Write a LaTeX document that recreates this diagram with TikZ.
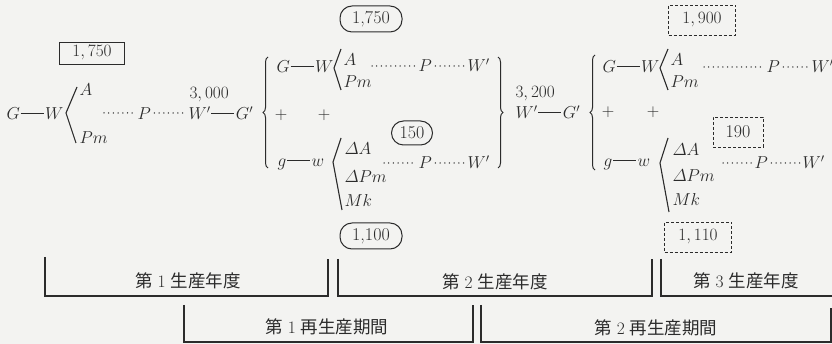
\documentclass[tikz,border=0pt]{standalone}
\usepackage{amsmath}
\usepackage{fontspec}
\newfontfamily\cjk{Noto Sans CJK JP}
\usetikzlibrary{decorations.pathreplacing}
\definecolor{ink}{HTML}{2B2B2B}
\definecolor{paper}{HTML}{F3F3F1}
\newcommand{\mydash}{\mbox{\kern0.8pt\rule[5.8pt]{23pt}{0.8pt}\kern1.5pt}}
\newcommand{\jsp}{\hspace{0.28em}}
\begin{document}
\begin{tikzpicture}[x=1pt,y=-1pt, color=ink, line width=1.1pt,
  every node/.style={inner sep=0pt, text=ink, font=\fontsize{18}{21}\selectfont},
  t/.style={anchor=base west},
  lbl/.style={font=\fontsize{17.5}{20}\selectfont},
  dotline/.style={line width=1.5pt, dash pattern=on 0pt off 4.7pt, line cap=round},
  oval/.style={draw, line width=1pt, rounded corners=12pt, minimum height=26pt},
  sq/.style={draw, line width=0.9pt, minimum height=22pt},
  dsq/.style={draw, line width=0.9pt, dash pattern=on 3pt off 2pt, minimum height=30pt},
  brc/.style={decorate, decoration={brace, amplitude=5pt}, line width=1pt},
  ang/.style={line width=1.1pt, line join=miter}
]
\fill[paper] (0,0) rectangle (832,344);
\useasboundingbox (0,0) rectangle (832,344);

% ---------- column 1 ----------
\node[t] (gw1) at (6,120) {$G\mydash W$};
\coordinate (a1t) at (77,87);
\coordinate (a1v) at (66,113);
\coordinate (a1b) at (76,143);
\draw[ang] (a1t) -- (a1v) -- (a1b);
\node[t] (A1) at (79,96) {$A$};
\node[t] (Pm1) at (79,144) {$Pm$};
\node[t] (P1) at (137,120) {$P$};
\node[t] (WG1) at (188,120) {$W'\mydash G'$};
\node[t] (n3000) at (189,99) {$3,000$};
\node[sq, minimum width=65pt] (b1750) at (92,53) {$1,750$};
\coordinate (d1s) at (104,113);
\draw[dotline] (d1s) -- ([xshift=-2pt]d1s -| P1.west);
\draw[dotline] ([xshift=3pt]P1.east |- d1s) -- ([xshift=-2pt]d1s -| WG1.west);
\coordinate (br1b) at (268,168);
\coordinate (br1t) at (268,57);
\draw[brc] (br1b) -- (br1t);

% ---------- column 2 ----------
\node[t] (gw2) at (276,73) {$G\mydash W$};
\coordinate (a2t) at (341,49);
\coordinate (a2v) at (334,68);
\coordinate (a2b) at (341,90);
\draw[ang] (a2t) -- (a2v) -- (a2b);
\node[t] (A2) at (343,66) {$A$};
\node[t] (Pm2) at (343,88) {$Pm$};
\node[t] (P2) at (418,72) {$P$};
\node[t] (W2) at (467,72) {$W'$};
\coordinate (d2s) at (372,66);
\draw[dotline] (d2s) -- ([xshift=-2pt]d2s -| P2.west);
\draw[dotline] ([xshift=3pt]P2.east |- d2s) -- ([xshift=-2pt]d2s -| W2.west);
\node[oval, minimum width=62pt] (o1750) at (371,19) {1,750};

\node (pl2a) at (281,115) {$+$};
\node (pl2b) at (324,115) {$+$};

\node[oval, minimum width=41pt, minimum height=24pt] (o150) at (412,133) {150};

\node[t] (gw2b) at (277,167) {$g\mydash w$};
\coordinate (a2bt) at (341,138);
\coordinate (a2bv) at (333,162);
\coordinate (a2bb) at (342,210);
\draw[ang] (a2bt) -- (a2bv) -- (a2bb);
\node[t] (dA2) at (344,155) {$\varDelta A$};
\node[t] (dPm2) at (344,183) {$\varDelta Pm$};
\node[t] (Mk2) at (344,207) {$Mk$};
\node[t] (P2b) at (418,169) {$P$};
\node[t] (W2b) at (467,169) {$W'$};
\coordinate (d2bs) at (384,163);
\draw[dotline] (d2bs) -- ([xshift=-2pt]d2bs -| P2b.west);
\draw[dotline] ([xshift=3pt]P2b.east |- d2bs) -- ([xshift=-2pt]d2bs -| W2b.west);
\node[oval, minimum width=62pt] (o1100) at (371,236) {1,100};

\coordinate (br2t) at (498,57);
\coordinate (br2b) at (498,168);
\draw[brc] (br2t) -- (br2b);
\node[t] (n3200) at (515,98) {$3,200$};
\node[t] (WG2) at (515,119) {$W'\mydash G'$};

% ---------- column 3 ----------
\coordinate (br3b) at (595,170);
\coordinate (br3t) at (595,55);
\draw[brc] (br3b) -- (br3t);
\node[t] (gw3) at (602,73) {$G\mydash W$};
\coordinate (a3t) at (668,49);
\coordinate (a3v) at (660,68);
\coordinate (a3b) at (668,90);
\draw[ang] (a3t) -- (a3v) -- (a3b);
\node[t] (A3) at (670,66) {$A$};
\node[t] (Pm3) at (670,88) {$Pm$};
\node[t] (P3) at (766,73) {$P$};
\node[t] (W3) at (811,73) {$W'$};
\coordinate (d3s) at (704,67);
\draw[dotline] (d3s) -- ([xshift=-2pt]d3s -| P3.west);
\draw[dotline] ([xshift=3pt]P3.east |- d3s) -- ([xshift=-2pt]d3s -| W3.west);
\node[dsq, minimum width=67pt] (d1900) at (702,20) {$1,900$};

\node (pl3a) at (608,112) {$+$};
\node (pl3b) at (653,112) {$+$};

\node[dsq, minimum width=50pt] (d190) at (738,132) {190};

\node[t] (gw3b) at (603,167) {$g\mydash w$};
\coordinate (a3bt) at (668,138);
\coordinate (a3bv) at (660,163);
\coordinate (a3bb) at (669,212);
\draw[ang] (a3bt) -- (a3bv) -- (a3bb);
\node[t] (dA3) at (672,156) {$\varDelta A$};
\node[t] (dPm3) at (672,182) {$\varDelta Pm$};
\node[t] (Mk3) at (672,206) {$Mk$};
\node[t] (P3b) at (754,169) {$P$};
\node[t] (W3b) at (802,169) {$W'$};
\coordinate (d3bs) at (723,163);
\draw[dotline] (d3bs) -- ([xshift=-2pt]d3bs -| P3b.west);
\draw[dotline] ([xshift=3pt]P3b.east |- d3bs) -- ([xshift=-2pt]d3bs -| W3b.west);
\node[dsq, minimum width=67pt] (d1110) at (698,237) {$1,110$};

% ---------- production years ----------
\coordinate (y1a) at (45,257);
\coordinate (y1b) at (45,296);
\coordinate (y1c) at (328,296);
\coordinate (y1d) at (328,259);
\draw (y1a) -- (y1b) -- (y1c) -- (y1d);
\node[lbl] (ly1) at (188,281) {{\cjk 第}\jsp1\jsp{\cjk 生産年度}};

\coordinate (y2a) at (338,259);
\coordinate (y2b) at (338,296);
\coordinate (y2c) at (652,296);
\coordinate (y2d) at (652,259);
\draw (y2a) -- (y2b) -- (y2c) -- (y2d);
\node[lbl] (ly2) at (495,282) {{\cjk 第}\jsp2\jsp{\cjk 生産年度}};

\coordinate (y3a) at (661,259);
\coordinate (y3b) at (661,296);
\coordinate (y3c) at (832,296);
\draw (y3a) -- (y3b) -- (y3c);
\node[lbl] (ly3) at (746,281) {{\cjk 第}\jsp3\jsp{\cjk 生産年度}};

% ---------- reproduction periods ----------
\coordinate (p1a) at (184,305);
\coordinate (p1b) at (184,342);
\coordinate (p1c) at (473,342);
\coordinate (p1d) at (473,305);
\draw (p1a) -- (p1b) -- (p1c) -- (p1d);
\node[lbl] (lp1) at (327,327) {{\cjk 第}\jsp1\jsp{\cjk 再生産期間}};

\coordinate (p2a) at (481,305);
\coordinate (p2b) at (481,342);
\coordinate (p2c) at (831,342);
\coordinate (p2d) at (831,308);
\draw (p2a) -- (p2b) -- (p2c) -- (p2d);
\node[lbl] (lp2) at (656,328) {{\cjk 第}\jsp2\jsp{\cjk 再生産期間}};
\end{tikzpicture}
\end{document}
